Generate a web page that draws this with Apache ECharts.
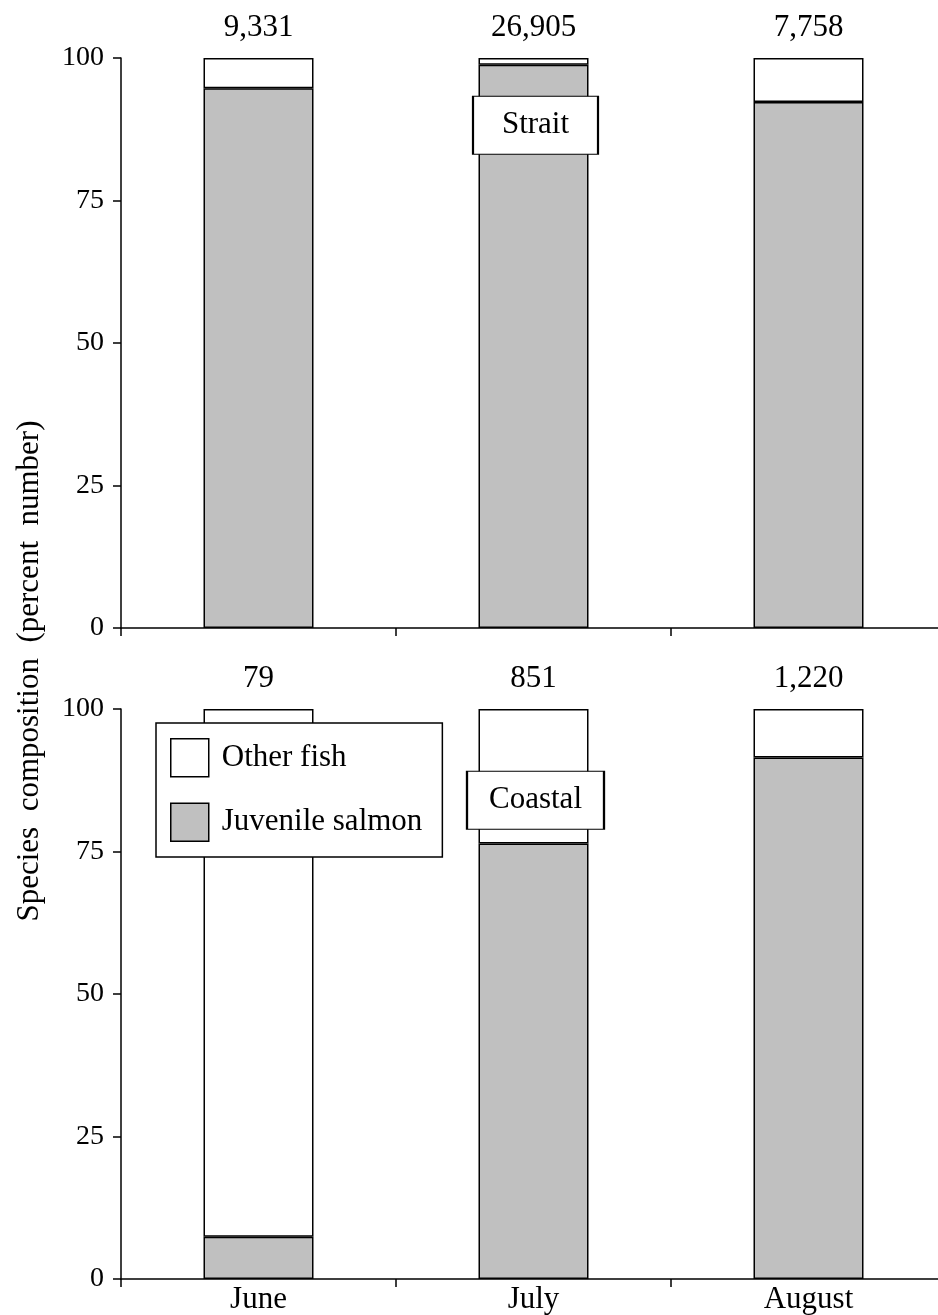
<!DOCTYPE html>
<html>
<head>
<meta charset="utf-8">
<script src="https://cdn.jsdelivr.net/npm/echarts@6/dist/echarts.min.js"></script>
<style>
html,body{margin:0;padding:0;background:#fff;overflow:hidden;}
#chart{width:938px;height:1315px;}
</style>
</head>
<body>
<div id="chart"></div>
<script>
const months = ['June', 'July', 'August'];
const yTicks = [0, 25, 50, 75, 100];
const straitJuvenile = [94.7, 98.8, 92.3];
const straitOther = [5.3, 1.2, 7.7];
const straitTotals = ['9,331', '26,905', '7,758'];
const coastalJuvenile = [7.4, 76.4, 91.5];
const coastalOther = [92.6, 23.6, 8.5];
const coastalTotals = ['79', '851', '1,220'];
const panelNames = ['Strait', 'Coastal'];
const panelNamePos = [['July', 88.2], ['July', 84.0]];
const seriesNames = ['Other fish', 'Juvenile salmon'];
const yTitle = 'Species  composition  (percent  number)';

const FONT = '"Liberation Serif", "Times New Roman", serif';
const GRAY = '#c0c0c0';

const chart = echarts.init(document.getElementById('chart'), null, {renderer: 'canvas'});

function xAxis(gridIndex, showLabels) {
  return {
    type: 'category', gridIndex, data: months,
    axisLine: {lineStyle: {color: '#000', width: 1.5}},
    axisTick: {show: true, length: 8, lineStyle: {color: '#000', width: 1.5}},
    axisLabel: {show: showLabels, margin: 5, color: '#000', fontFamily: FONT, fontSize: 31},
    splitLine: {show: false}
  };
}
function yAxis(gridIndex) {
  return {
    type: 'value', gridIndex, min: yTicks[0], max: yTicks[yTicks.length - 1], interval: 25,
    axisLine: {show: true, lineStyle: {color: '#000', width: 1.5}},
    axisTick: {show: true, length: 8, lineStyle: {color: '#000', width: 1.5}},
    axisLabel: {margin: 17, color: '#000', fontFamily: FONT, fontSize: 28},
    splitLine: {show: false}
  };
}
function barSeries(name, data, axisIdx, stack, fill, totals, mp) {
  const s = {
    name, type: 'bar', data, stack,
    xAxisIndex: axisIdx, yAxisIndex: axisIdx,
    barWidth: 110,
    itemStyle: {color: fill, borderColor: '#000', borderWidth: 1.5},
    emphasis: {disabled: true},
    animation: false
  };
  if (totals) {
    s.label = {
      show: true, position: 'top', distance: 15,
      formatter: p => totals[p.dataIndex],
      color: '#000', fontFamily: FONT, fontSize: 31
    };
  }
  if (mp) {
    s.markPoint = {
      z: 10,
      symbol: 'rect', symbolSize: mp.size, symbolOffset: [2, 0],
      itemStyle: {color: '#fff', borderColor: '#000', borderWidth: 1.5},
      label: {show: true, position: 'inside', formatter: mp.text, color: '#000', fontFamily: FONT, fontSize: 31},
      data: [{coord: mp.coord}],
      animation: false
    };
  }
  return s;
}

const option = {
  animation: false,
  backgroundColor: '#fff',
  grid: [
    {left: 121, width: 825, top: 58, height: 570, outerBoundsMode: 'none', containLabel: false},
    {left: 121, width: 825, top: 709, height: 570, outerBoundsMode: 'none', containLabel: false}
  ],
  xAxis: [xAxis(0, false), xAxis(1, true)],
  yAxis: [yAxis(0), yAxis(1)],
  legend: {
    data: seriesNames,
    orient: 'vertical',
    left: 156, top: 723,
    padding: [15, 20, 15, 14],
    itemGap: 25,
    itemWidth: 38, itemHeight: 38,
    icon: 'rect',
    backgroundColor: '#fff',
    borderColor: '#000', borderWidth: 1.5, borderRadius: 0,
    itemStyle: {borderColor: '#000', borderWidth: 1.5},
    textStyle: {color: '#000', fontFamily: FONT, fontSize: 31, padding: [0, 0, 0, 8]},
    selectedMode: false
  },
  graphic: [{
    type: 'text', x: 30, y: 671, rotation: Math.PI / 2,
    style: {text: yTitle, font: '31px ' + FONT, fill: '#000', textAlign: 'center', textVerticalAlign: 'middle'}
  }],
  series: [
    barSeries(seriesNames[1], straitJuvenile, 0, 's', GRAY, null, {text: panelNames[0], coord: panelNamePos[0], size: [125, 58]}),
    barSeries(seriesNames[0], straitOther, 0, 's', '#fff', straitTotals, null),
    barSeries(seriesNames[1], coastalJuvenile, 1, 'c', GRAY, null, {text: panelNames[1], coord: panelNamePos[1], size: [137, 58]}),
    barSeries(seriesNames[0], coastalOther, 1, 'c', '#fff', coastalTotals, null)
  ]
};
chart.setOption(option);
</script>
</body>
</html>
